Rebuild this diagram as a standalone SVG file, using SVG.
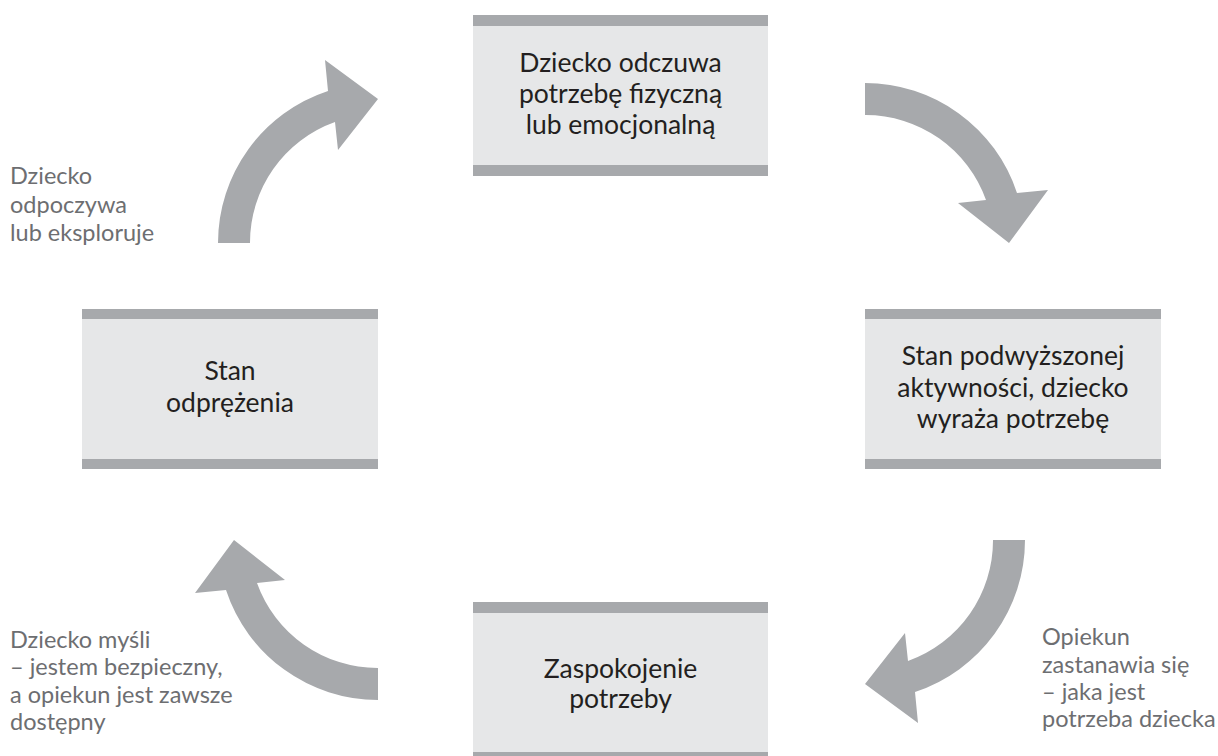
<svg xmlns="http://www.w3.org/2000/svg" width="1218" height="756" viewBox="0 0 1218 756">
<style>
.box{fill:#e6e7e8}
.bar{fill:#a7a9ac}
.t{font-family:Lato,"Liberation Sans",sans-serif;font-size:26.5px;font-weight:400;fill:#231f20;text-anchor:middle}
.n{font-family:Lato,"Liberation Sans",sans-serif;font-size:23.5px;font-weight:400;fill:#6d6e71}
.arr{fill:#a7a9ac}
</style>
<defs>
<path id="arrow" d="M -160,0 A 160 160 0 0 1 -50,-152 L -53,-183 L 0,-144 L -40,-93 L -43,-121 A 128 128 0 0 0 -128,0 Z"/>
</defs>
<rect width="1218" height="756" fill="#ffffff"/>
<g id="connectors" class="arr">
<use href="#arrow" transform="translate(378,243)"/>
<use href="#arrow" transform="translate(865,243) rotate(90)"/>
<use href="#arrow" transform="translate(865,540) rotate(180)"/>
<use href="#arrow" transform="translate(378,540) rotate(270)"/>
</g>
<g id="node-top">
<rect class="box" x="473" y="15" width="295" height="161"/>
<rect class="bar" x="473" y="15" width="295" height="11"/>
<rect class="bar" x="473" y="165" width="295" height="11"/>
<text class="t" x="620.5" y="72">Dziecko odczuwa</text>
<text class="t" x="620.5" y="103">potrzebę fizyczną</text>
<text class="t" x="620.5" y="134">lub emocjonalną</text>
</g>
<g id="node-right">
<rect class="box" x="865" y="309" width="296" height="160"/>
<rect class="bar" x="865" y="309" width="296" height="10"/>
<rect class="bar" x="865" y="459" width="296" height="10"/>
<text class="t" x="1013" y="365">Stan podwyższonej</text>
<text class="t" x="1013" y="397">aktywności, dziecko</text>
<text class="t" x="1013" y="428">wyraża potrzebę</text>
</g>
<g id="node-bottom">
<rect class="box" x="473" y="602" width="295" height="160"/>
<rect class="bar" x="473" y="602" width="295" height="11"/>
<rect class="bar" x="473" y="752" width="295" height="11"/>
<text class="t" x="620.5" y="678">Zaspokojenie</text>
<text class="t" x="620.5" y="708">potrzeby</text>
</g>
<g id="node-left">
<rect class="box" x="82" y="309" width="296" height="160"/>
<rect class="bar" x="82" y="309" width="296" height="10"/>
<rect class="bar" x="82" y="459" width="296" height="10"/>
<text class="t" x="230" y="380">Stan</text>
<text class="t" x="230" y="412">odprężenia</text>
</g>
<g id="note-topleft">
<text class="n" x="10" y="184">Dziecko</text>
<text class="n" x="10" y="213">odpoczywa</text>
<text class="n" x="10" y="241">lub eksploruje</text>
</g>
<g id="note-bottomleft">
<text class="n" x="10" y="648">Dziecko myśli</text>
<text class="n" x="10" y="675">– jestem bezpieczny,</text>
<text class="n" x="10" y="703">a opiekun jest zawsze</text>
<text class="n" x="10" y="730">dostępny</text>
</g>
<g id="note-bottomright">
<text class="n" x="1042" y="645">Opiekun</text>
<text class="n" x="1042" y="673">zastanawia się</text>
<text class="n" x="1042" y="700">– jaka jest</text>
<text class="n" x="1042" y="727">potrzeba dziecka</text>
</g>
</svg>
